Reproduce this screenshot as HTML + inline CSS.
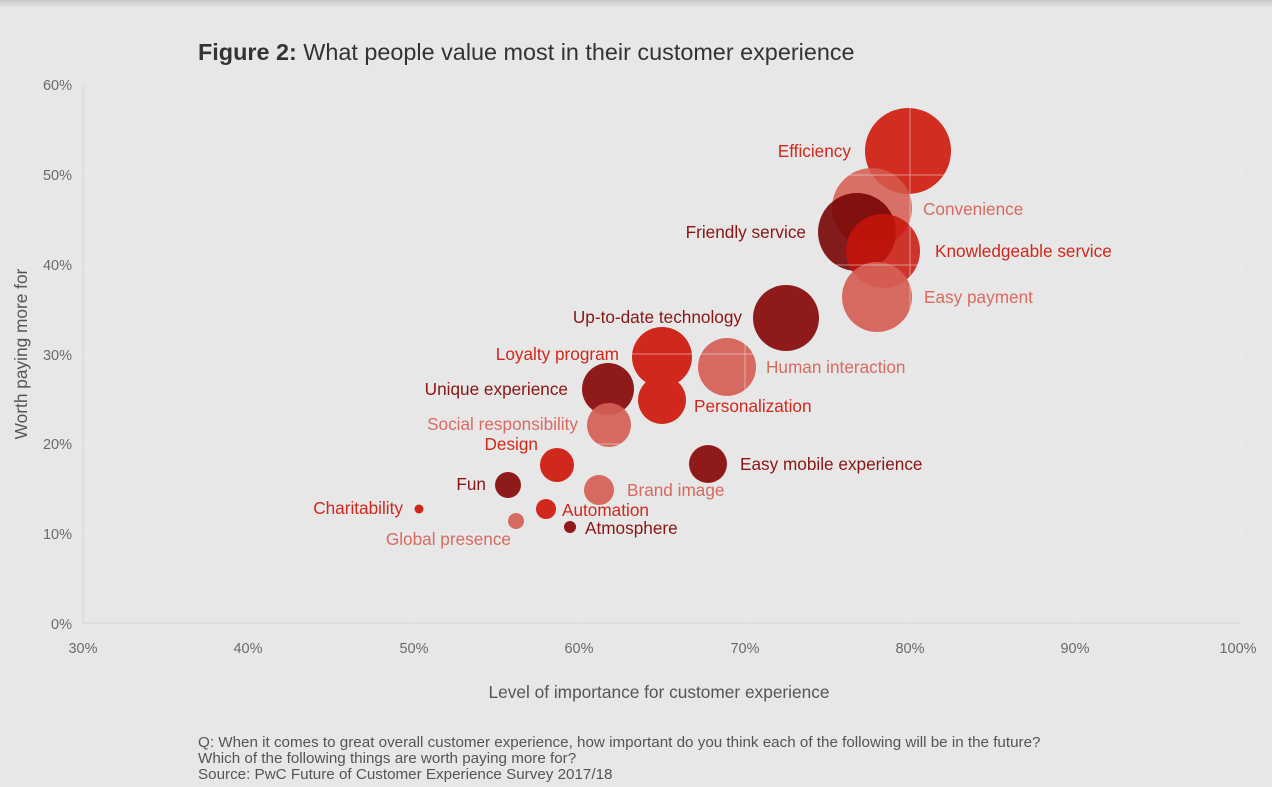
<!DOCTYPE html>
<html><head><meta charset="utf-8"><style>
body{margin:0;background:#e7e7e7;}
svg{display:block;font-family:"Liberation Sans",Arial,sans-serif;}
</style></head><body>
<svg width="1272" height="787" viewBox="0 0 1272 787" xmlns="http://www.w3.org/2000/svg">
<defs><linearGradient id="g" x1="0" y1="0" x2="0" y2="1"><stop offset="0" stop-color="#c8c8c8"/><stop offset="1" stop-color="#e7e7e7"/></linearGradient></defs>
<rect width="1272" height="787" fill="#e7e7e7"/>
<rect width="1272" height="8" fill="url(#g)"/>
<text x="198" y="60" font-size="23.4" fill="#333"><tspan font-weight="bold">Figure 2:</tspan> What people value most in their customer experience</text>
<g font-size="14.5" fill="#6a6a6a" text-anchor="end">
<text x="72" y="90">60%</text><text x="72" y="180">50%</text><text x="72" y="270">40%</text><text x="72" y="360">30%</text><text x="72" y="449">20%</text><text x="72" y="539">10%</text><text x="72" y="629">0%</text>
</g>
<g font-size="14.5" fill="#6a6a6a" text-anchor="middle">
<text x="83" y="653">30%</text><text x="248" y="653">40%</text><text x="414" y="653">50%</text><text x="579" y="653">60%</text><text x="745" y="653">70%</text><text x="910" y="653">80%</text><text x="1075" y="653">90%</text><text x="1238" y="653">100%</text>
</g>
<text x="659" y="698" font-size="17.3" fill="#555" text-anchor="middle">Level of importance for customer experience</text>
<text transform="translate(27,354) rotate(-90)" font-size="17.3" fill="#555" text-anchor="middle">Worth paying more for</text>
<g font-size="15.2" fill="#555">
<text x="198" y="747">Q: When it comes to great overall customer experience, how important do you think each of the following will be in the future?</text>
<text x="198" y="763">Which of the following things are worth paying more for?</text>
<text x="198" y="779">Source: PwC Future of Customer Experience Survey 2017/18</text>
</g>
<g>
<circle cx="908" cy="151" r="43" fill="rgba(208,36,22,0.95)"/>
<circle cx="872" cy="208" r="40" fill="rgba(214,90,78,0.85)"/>
<circle cx="857" cy="232" r="39" fill="rgba(120,5,5,0.9)"/>
<circle cx="883" cy="251" r="37" fill="rgba(200,20,10,0.85)"/>
<circle cx="877" cy="297" r="35" fill="rgba(214,95,85,0.92)"/>
<circle cx="786" cy="318" r="33" fill="#8e1a1a"/>
<circle cx="727" cy="367" r="29" fill="rgba(214,95,85,0.92)"/>
<circle cx="662" cy="357" r="30" fill="#d0281c"/>
<circle cx="608" cy="389" r="26" fill="#8e1a1a"/>
<circle cx="662" cy="400" r="24" fill="#d0281c"/>
<circle cx="609" cy="425" r="22" fill="rgba(214,95,85,0.92)"/>
<circle cx="557" cy="465" r="17" fill="#d0281c"/>
<circle cx="708" cy="464" r="19" fill="#8e1a1a"/>
<circle cx="508" cy="485" r="13" fill="#8e1a1a"/>
<circle cx="599" cy="490" r="15" fill="rgba(214,95,85,0.92)"/>
<circle cx="546" cy="509" r="10" fill="#d0281c"/>
<circle cx="516" cy="521" r="8" fill="rgba(214,95,85,0.92)"/>
<circle cx="570" cy="527" r="6" fill="#8e1a1a"/>
<circle cx="419" cy="509" r="4.5" fill="#d0281c"/>
</g>
<g stroke="#f0f0f0" stroke-width="1" opacity="0.5">
<line x1="83" y1="85" x2="1241" y2="85"/><line x1="83" y1="175" x2="1241" y2="175"/><line x1="83" y1="265" x2="1241" y2="265"/><line x1="83" y1="354" x2="1241" y2="354"/><line x1="83" y1="444" x2="1241" y2="444"/><line x1="83" y1="534" x2="1241" y2="534"/>
<line x1="248" y1="85" x2="248" y2="623"/><line x1="414" y1="85" x2="414" y2="623"/><line x1="579" y1="85" x2="579" y2="623"/><line x1="745" y1="85" x2="745" y2="623"/><line x1="910" y1="85" x2="910" y2="623"/><line x1="1075" y1="85" x2="1075" y2="623"/><line x1="1241" y1="85" x2="1241" y2="623"/>
</g>
<line x1="83" y1="85" x2="83" y2="623" stroke="#d4d4d4"/>
<line x1="83" y1="623" x2="1241" y2="623" stroke="#d4d4d4"/>
<g font-size="17.2">
<text x="851" y="157" fill="#d0281c" text-anchor="end">Efficiency</text>
<text x="923" y="215" fill="#d96a60">Convenience</text>
<text x="806" y="238" fill="#8b1515" text-anchor="end">Friendly service</text>
<text x="935" y="257" fill="#d0281c">Knowledgeable service</text>
<text x="924" y="303" fill="#d96a60">Easy payment</text>
<text x="742" y="323" fill="#8b1515" text-anchor="end">Up-to-date technology</text>
<text x="766" y="373" fill="#d96a60">Human interaction</text>
<text x="619" y="360" fill="#d0281c" text-anchor="end">Loyalty program</text>
<text x="568" y="395" fill="#8b1515" text-anchor="end">Unique experience</text>
<text x="694" y="412" fill="#d0281c">Personalization</text>
<text x="578" y="430" fill="#d96a60" text-anchor="end">Social responsibility</text>
<text x="538" y="450" fill="#d0281c" text-anchor="end">Design</text>
<text x="740" y="470" fill="#8b1515">Easy mobile experience</text>
<text x="486" y="490" fill="#8b1515" text-anchor="end">Fun</text>
<text x="627" y="496" fill="#d96a60">Brand image</text>
<text x="562" y="516" fill="#d0281c">Automation</text>
<text x="511" y="545" fill="#d96a60" text-anchor="end">Global presence</text>
<text x="585" y="534" fill="#8b1515">Atmosphere</text>
<text x="403" y="514" fill="#d0281c" text-anchor="end">Charitability</text>
</g>
</svg>
</body></html>
